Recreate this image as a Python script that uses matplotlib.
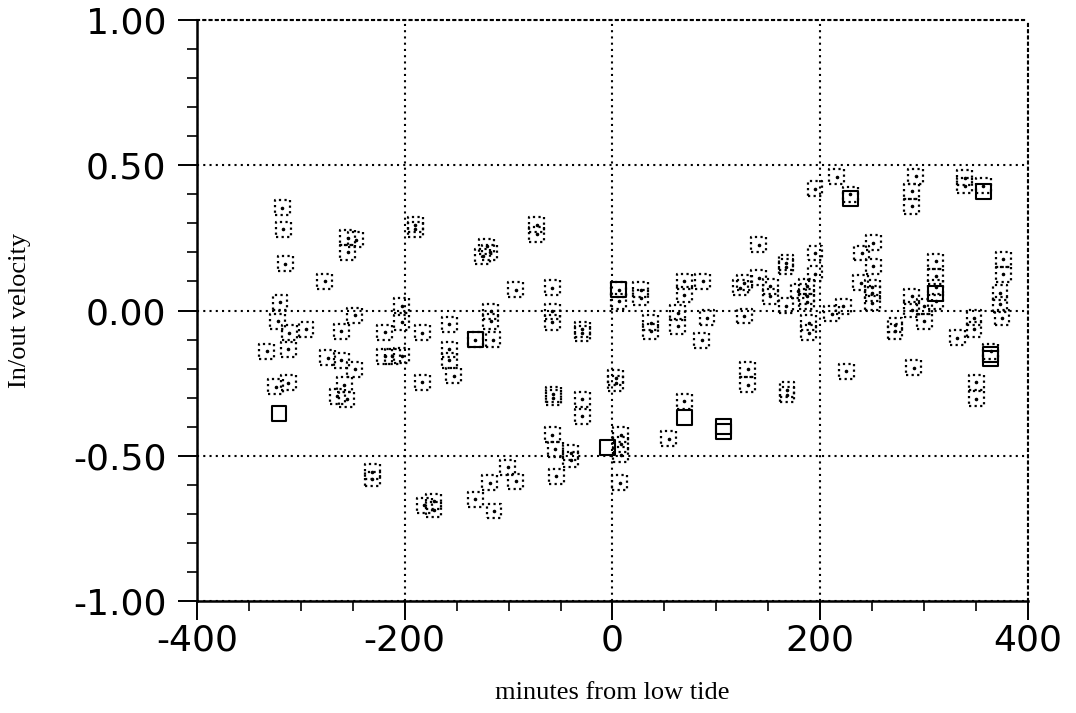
import matplotlib
matplotlib.use("Agg")
import matplotlib.pyplot as plt
from matplotlib.ticker import MultipleLocator, FixedLocator

plt.rcParams["axes.unicode_minus"] = False

# minutes from low tide / in-out velocity, dotted boxes
minutes = [
    -318, -317, -315, -277, -255, -255, -247, -320, -322, -311, -295, -248, -261,
    -333, -312, -274, -261, -248, -258, -265, -256, -324, -312, -231, -231,
    -219, -203, -203, -219, -212, -203,
    -190, -190, -121, -125, -118, -73, -73, -93, -58, -117, -117, -115, -132,
    -157, -183, -157, -157, -153, -183, -58, -58, -29, -29, -57, -57, -29, -29,
    -58, -55, -40, -40, -54, -101, -93, -118, -132, -114, -172, -172, -181,
    6, 6, 27, 27, 69, 69, 87, 37, 37, 63, 63, 91, 86, 127, 123, 127, 141, 152,
    152, 141, 3, 3, 130, 130, 69, 54, 8, 8, 8, 7,
    195, 216, 229, 292, 288, 288, 195, 195, 167, 167, 251, 240, 251, 239, 250,
    250, 250, 187, 179, 187, 187, 167, 211, 222, 189, 189, 225, 168, 168, 288,
    288, 300, 300, 272, 272, 311, 311, 311, 311, 290,
    339, 339, 357, 376, 376, 373, 373, 375, 348, 348, 332, 364, 350, 350,
]
velocity = [
    0.354, 0.279, 0.161, 0.101, 0.25, 0.20, 0.244, 0.029, -0.037, -0.077, -0.065, -0.016, -0.071,
    -0.14, -0.134, -0.163, -0.171, -0.203, -0.255, -0.295, -0.306, -0.263, -0.249, -0.555, -0.58,
    -0.075, 0.017, -0.04, -0.157, -0.157, -0.155,
    0.279, 0.295, 0.221, 0.187, 0.20, 0.296, 0.262, 0.072, 0.078, -0.002, -0.037, -0.1, -0.1,
    -0.048, -0.077, -0.134, -0.171, -0.224, -0.247, -0.002, -0.04, -0.065, -0.078, -0.289, -0.30, -0.306, -0.364,
    -0.427, -0.478, -0.49, -0.513, -0.57, -0.54, -0.587, -0.593, -0.65, -0.69, -0.656, -0.685, -0.67,
    0.032, 0.072, 0.072, 0.044, 0.101, 0.055, 0.101, -0.042, -0.071, -0.008, -0.054, -0.025, -0.102, 0.095, 0.078, -0.019, 0.113, 0.084,
    0.049, 0.227, -0.232, -0.25, -0.203, -0.255, -0.312, -0.442, -0.427, -0.46, -0.496, -0.593,
    0.419, 0.46, 0.40, 0.462, 0.41, 0.359, 0.198, 0.127, 0.164, 0.15, 0.233, 0.198, 0.153, 0.095, 0.08,
    0.06, 0.026, 0.084, 0.067, 0.049, 0.03, 0.017, -0.011, 0.015, -0.042, -0.077, -0.209, -0.272, -0.29, 0.049,
    0.003, 0.015, -0.037, -0.05, -0.071, 0.17, 0.118, 0.08, 0.032, -0.197,
    0.457, 0.43, 0.43, 0.176, 0.124, 0.061, 0.021, -0.025, -0.025, -0.065, -0.094, -0.14, -0.247, -0.304,
]

# solid boxes
minutes_solid = [69, 107, 107, 364, 364, -321, -5, 311, -132, 229, 357, 6]
velocity_solid = [-0.369, -0.40, -0.415, -0.15, -0.165, -0.355, -0.47, 0.06, -0.1, 0.385, 0.41, 0.072]

x_ticks = [-400, -200, 0, 200, 400]
y_ticks = [-1.0, -0.5, 0.0, 0.5, 1.0]
y_labels = ["-1.00", "-0.50", "0.00", "0.50", "1.00"]

dots = (0, (1, 1.5))

fig = plt.figure(figsize=(10.76, 7.13), dpi=100)
ax = fig.add_axes([0.183, 0.157, 0.7724, 0.815])

ax.scatter(minutes, velocity, marker="s", s=115, facecolors="none",
           edgecolors="black", linewidths=1.6, linestyles=dots, zorder=3)
ax.scatter(minutes, velocity, marker="o", s=2.5, color="black", zorder=3)
ax.scatter(minutes_solid, velocity_solid, marker="s", s=115, facecolors="none",
           edgecolors="black", linewidths=1.5, zorder=3)

ax.set_xlim(-400, 400)
ax.set_ylim(-1, 1)

ax.xaxis.set_major_locator(FixedLocator(x_ticks))
ax.xaxis.set_minor_locator(MultipleLocator(50))
ax.yaxis.set_major_locator(FixedLocator(y_ticks))
ax.yaxis.set_minor_locator(MultipleLocator(0.1))
ax.set_xticklabels([str(t) for t in x_ticks])
ax.set_yticklabels(y_labels)

ax.grid(True, which="major", color="black", linestyle=(0, (1, 2)), linewidth=1.5)

for side in ["top", "right"]:
    ax.spines[side].set_linestyle((0, (1, 2)))
    ax.spines[side].set_linewidth(1.5)
for side in ["left", "bottom"]:
    ax.spines[side].set_linewidth(1.8)

ax.tick_params(axis="both", which="major", direction="out", length=14,
               width=1.4, labelsize=26)
ax.tick_params(axis="both", which="minor", direction="out", length=7, width=1.2)
ax.tick_params(axis="x", which="major", pad=2)
ax.tick_params(axis="y", which="major", pad=8)
for lab in ax.get_xticklabels() + ax.get_yticklabels():
    lab.set_family("DejaVu Sans")

ax.set_xlabel("minutes from low tide", family="Liberation Serif", fontsize=19, labelpad=18)
ax.set_ylabel("In/out velocity", family="Liberation Serif", fontsize=19, labelpad=30)

fig.savefig("out.png", dpi=100)
plt.close(fig)
